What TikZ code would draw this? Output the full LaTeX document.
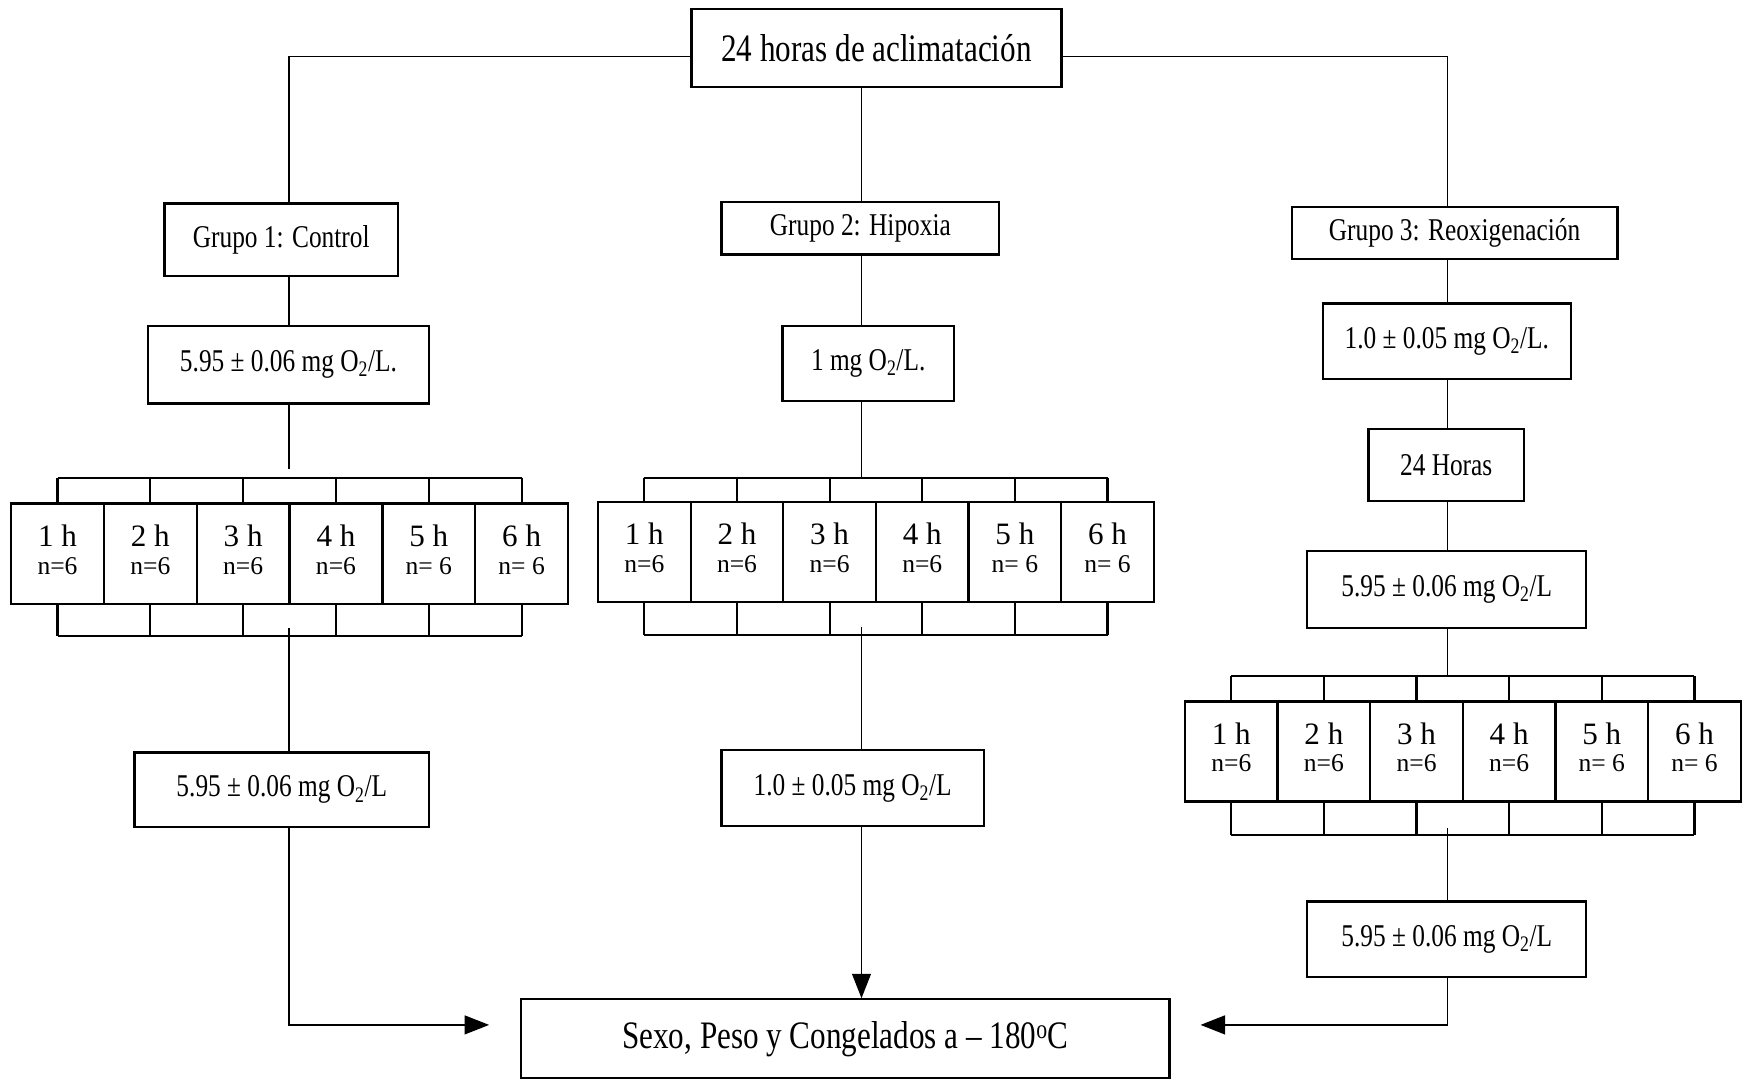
\documentclass[tikz,border=0pt]{standalone}
\usepackage{fontspec}
\setmainfont{Liberation Serif}[FakeStretch=0.8]
\newfontfamily\nfont{Liberation Serif}
\usetikzlibrary{arrows.meta}
\begin{document}
\begin{tikzpicture}[x=1pt,y=-1pt,
  box/.style={draw, line width=2pt, inner sep=0pt, align=center, font=\fontsize{28.5}{32}\selectfont},
  cell/.style={draw, line width=2pt, minimum width=83.4pt, minimum height=90pt, inner sep=0pt},
  conn/.style={line width=1.3pt},
  comb/.style={line width=2pt},
  arr/.style={line width=1.3pt, -{Triangle[length=22pt,width=17pt]}}]
\newcommand\celltext[2]{\nfont\fontsize{23}{25}\selectfont\begin{tabular}{@{}c@{}}{\fontsize{28}{25}\selectfont #1{} h}\\ #2\end{tabular}}
\useasboundingbox (0,0) rectangle (1568,972);
\fill[white] (0,0) rectangle (1568,972);
% main boxes
\node[box, minimum width=333pt, minimum height=70pt, font=\fontsize{35}{38}\selectfont] (top) at (788.5,43) {24 horas de aclimatación};
\node[box, minimum width=210pt, minimum height=65pt] (G1) at (253,215.5) {Grupo 1: Control};
\node[box, minimum width=250pt, minimum height=47pt] (G2) at (774,205.5) {Grupo 2: Hipoxia};
\node[box, minimum width=293pt, minimum height=47pt] (G3) at (1308.5,209.5) {Grupo 3: Reoxigenación};
\node[box, minimum width=253pt, minimum height=70pt] (C1) at (259.5,328) {5.95 ± 0.06 mg O\textsubscript{2}/L.};
\node[box, minimum width=154pt, minimum height=68pt] (H1) at (781,327) {1 mg O\textsubscript{2}/L.};
\node[box, minimum width=223pt, minimum height=68pt] (R1) at (1301.5,307) {1.0 ± 0.05 mg O\textsubscript{2}/L.};
\node[box, minimum width=140pt, minimum height=65pt] (R2) at (1301,418.5) {24 Horas};
\node[box, minimum width=251pt, minimum height=69pt] (R3) at (1301.5,530.5) {5.95 ± 0.06 mg O\textsubscript{2}/L};
\node[box, minimum width=265pt, minimum height=67pt] (C2) at (253.5,710.5) {5.95 ± 0.06 mg O\textsubscript{2}/L};
\node[box, minimum width=236pt, minimum height=68pt] (H2) at (767,709) {1.0 ± 0.05 mg O\textsubscript{2}/L};
\node[box, minimum width=251pt, minimum height=68pt] (R4) at (1301.5,845) {5.95 ± 0.06 mg O\textsubscript{2}/L};
\node[box, minimum width=583pt, minimum height=71pt, font=\fontsize{35}{38}\selectfont] (F) at (760.5,934.5) {Sexo, Peso y Congelados a – 180\textsuperscript{o}C};
% time cells
\foreach \i/\n in {1/n=6,2/n=6,3/n=6,4/n=6,5/n= 6,6/n= 6}{
  \node[cell] (L\i) at ({10+83.5*(\i-0.5)},498) {\celltext{\i}{\n}};
  \node[cell] (M\i) at ({538+83.33*(\i-0.5)},496.5) {\celltext{\i}{\n}};
  \node[cell] (P\i) at ({1066+83.33*(\i-0.5)},676) {\celltext{\i}{\n}};
}
% spine coordinates
\coordinate (sL) at (260,51);
\coordinate (sR) at (1302,51);
\coordinate (Lct) at (260,430);
\coordinate (Lcb) at (260,572);
\coordinate (Mct) at (775,430);
\coordinate (Mcb) at (775,571);
\coordinate (Rct) at (1302,608);
\coordinate (Rcb) at (1302,751);
\coordinate (aL) at (440,922);
\coordinate (aR) at (1080,922);
% combs
\foreach \r/\t/\b in {L/Lct/Lcb, M/Mct/Mcb, P/Rct/Rcb}{
  \draw[comb] (\r1.north |- \t) -- (\r6.north |- \t);
  \draw[comb] (\r1.south |- \b) -- (\r6.south |- \b);
  \foreach \i in {1,...,6}{
    \draw[comb] (\r\i.north |- \t) -- (\r\i.north);
    \draw[comb] (\r\i.south) -- (\r\i.south |- \b);
  }
}
% top connectors
\draw[conn] (top.west |- sL) -- (sL) -- (G1.north -| sL);
\draw[conn] (top.east |- sR) -- (sR) -- (G3.north -| sR);
\draw[conn] (top.south -| Mct) -- (G2.north -| Mct);
% left column
\draw[conn] (G1.south -| sL) -- (C1.north -| sL);
\draw[conn, shorten >=8pt] (C1.south -| sL) -- (Lct);
\draw[conn, shorten <=-7pt] (Lcb) -- (C2.north -| Lcb);
\draw[arr] (C2.south -| Lcb) |- (aL);
% middle column
\draw[conn] (G2.south -| Mct) -- (H1.north -| Mct);
\draw[conn] (H1.south -| Mct) -- (Mct);
\draw[conn, shorten <=-7pt] (Mcb) -- (H2.north -| Mcb);
\draw[arr] (H2.south -| Mcb) -- (F.north -| Mcb);
% right column
\draw[conn] (G3.south -| sR) -- (R1.north -| sR);
\draw[conn] (R1.south -| sR) -- (R2.north -| sR);
\draw[conn] (R2.south -| sR) -- (R3.north -| sR);
\draw[conn] (R3.south -| sR) -- (Rct);
\draw[conn, shorten <=-6pt] (Rcb) -- (R4.north -| Rcb);
\draw[arr] (R4.south -| Rcb) |- (aR);
\end{tikzpicture}
\end{document}
